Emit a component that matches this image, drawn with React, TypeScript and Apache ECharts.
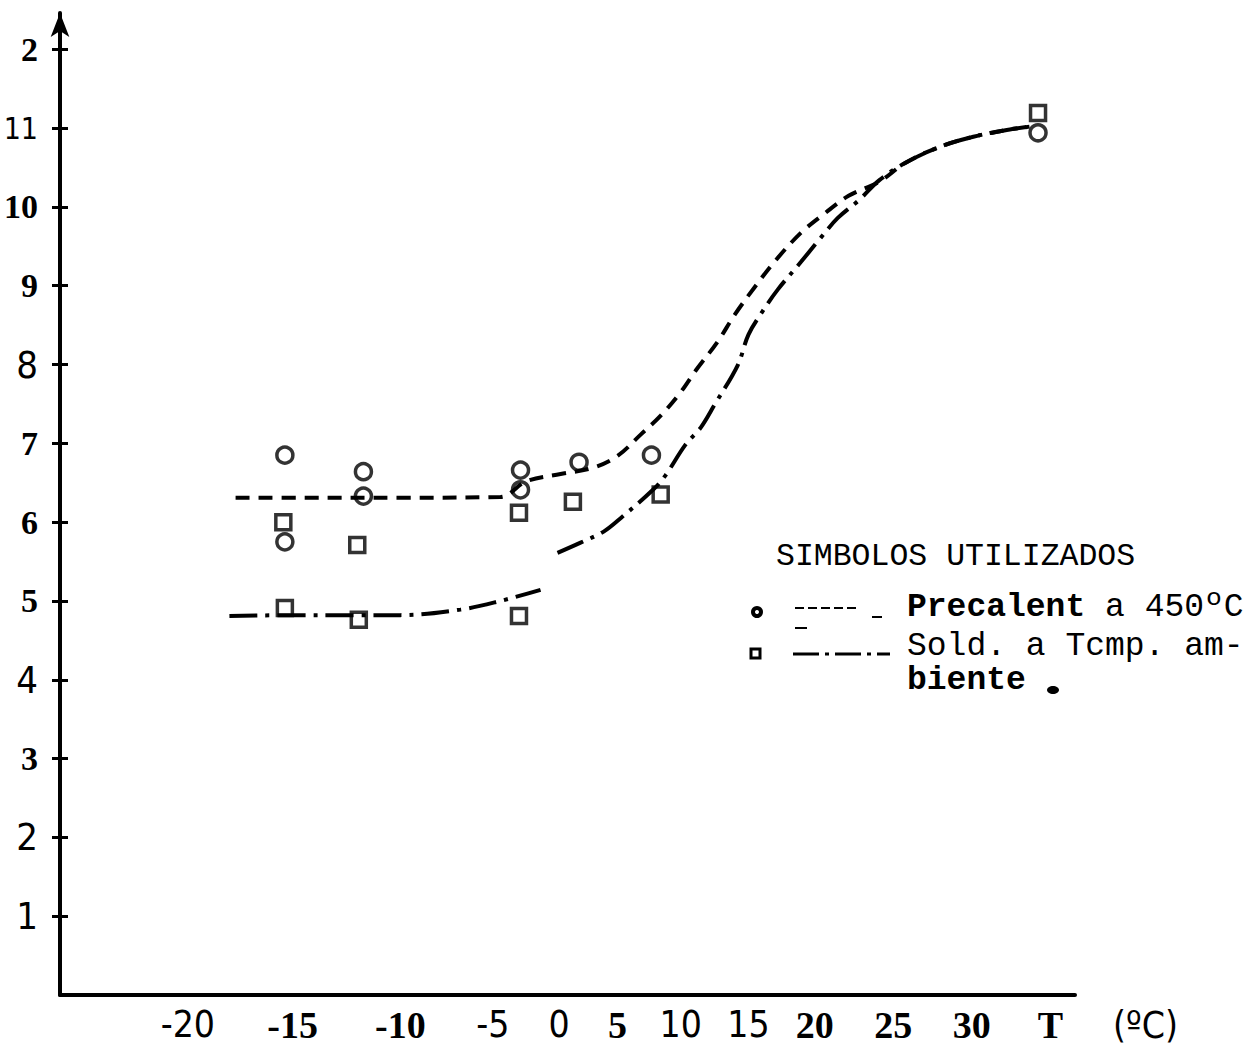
import React, { useEffect, useRef } from "react";
import * as echarts from "echarts";

// ---- data ----
// Precalent a 450ºC (circles): [T, value]
const precalentPoints: [number, number][] = [
  [-15.4, 6.85], [-15.4, 5.75], [-10.3, 6.64], [-10.3, 6.33],
  [-0.1, 6.66], [-0.1, 6.41], [3.7, 6.76], [8.4, 6.85], [33.5, 10.94],
];
// Sold. a Temp. ambiente (squares)
const soldPoints: [number, number][] = [
  [-15.5, 6.0], [-15.4, 4.91], [-10.7, 5.71], [-10.6, 4.76],
  [-0.2, 6.12], [-0.2, 4.81], [3.3, 6.26], [9.0, 6.35], [33.5, 11.19],
];
// hand-drawn dashed curve (Precalent)
const precalentCurve: [number, number][] = [
  [-18.6, 6.31], [-14.4, 6.31], [-7.9, 6.31], [-1.4, 6.32], [0.3, 6.52],
  [2.5, 6.61], [4.6, 6.69], [6.2, 6.84], [7.7, 7.11], [9.0, 7.35],
  [10.3, 7.65], [11.3, 7.93], [12.7, 8.29], [13.8, 8.63], [15.1, 8.98],
  [16.5, 9.33], [18.1, 9.67], [19.6, 9.91], [21.2, 10.14], [23.2, 10.32],
  [24.9, 10.56], [27.1, 10.76], [29.3, 10.89], [31.3, 10.97], [33.0, 11.02],
];
// hand-drawn dash-dot curve (Sold.), drawn in two strokes
const soldCurveLow: [number, number][] = [
  [-19.0, 4.81], [-14.4, 4.82], [-11.2, 4.82], [-7.9, 4.82],
  [-4.0, 4.89], [-1.4, 5.0], [1.2, 5.14],
];
const soldCurveHigh: [number, number][] = [
  [2.3, 5.61], [3.8, 5.74], [5.3, 5.88], [6.4, 6.05], [8.5, 6.41],
  [9.3, 6.59], [10.6, 6.98], [11.6, 7.2], [12.5, 7.49], [14.0, 7.99],
  [14.7, 8.38], [15.6, 8.67], [16.6, 8.95], [18.1, 9.3], [19.4, 9.61],
  [20.5, 9.86], [21.9, 10.09], [23.2, 10.34], [24.9, 10.56], [27.1, 10.76],
  [29.3, 10.89], [31.3, 10.97], [33.0, 11.02],
];
// tick labels as printed, and where they sit on the axis
const xTickLabels = ["-20", "-15", "-10", "-5", "0", "5", "10", "15", "20", "25", "30", "T"];
const xTickValues = [-21.7, -14.9, -7.9, -1.9, 2.4, 6.2, 10.3, 14.7, 19.0, 24.1, 29.2, 34.3];
const yTickValues = [1, 2, 3, 4, 5, 6, 7, 8, 9, 10, 11, 12];
const yTickLabels = ["1", "2", "3", "4", "5", "6", "7", "8", "9", "10", "11", "2"];

// ---- styles ----
const xLabelFace = ["l", "b", "b", "l", "l", "b", "l", "l", "b", "b", "b", "b"];
const yLabelFace = ["l", "l", "b", "l", "b", "b", "b", "l", "b", "b", "s", "b"];
const SERIF = '"Liberation Serif", "DejaVu Serif", serif';
const NARROW = '"Liberation Sans Narrow", "DejaVu Sans Condensed", "Liberation Sans", sans-serif';
const MONO = '"Liberation Mono", "DejaVu Sans Mono", monospace';

function findIdx(arr: number[], v: number) {
  for (let i = 0; i < arr.length; i++) if (Math.abs(arr[i] - v) < 1e-6) return i;
  return -1;
}

export default function App() {
  const ref = useRef<HTMLDivElement>(null);
  useEffect(() => {
    if (!ref.current) return;
    const chart = echarts.init(ref.current, undefined, { renderer: "svg" });
    const tickStyle = { color: "#000", width: 3 };
    const yMax = 12.46;
    chart.setOption({
      animation: false,
      backgroundColor: "#fff",
      grid: { left: 60, right: 178, top: 13, bottom: 57, containLabel: false, outerBoundsMode: "none" },
      xAxis: {
        type: "value",
        min: -30,
        max: 35.9,
        axisLine: { onZero: false, lineStyle: { color: "#000", width: 4 } },
        axisTick: { show: false },
        splitLine: { show: false },
        axisLabel: {
          customValues: xTickValues,
          margin: 11,
          formatter: (v: number) => {
            const i = findIdx(xTickValues, v);
            return i < 0 ? "" : `{${xLabelFace[i]}|${xTickLabels[i]}}`;
          },
          rich: {
            b: { fontFamily: SERIF, fontWeight: "bold", fontSize: 38, color: "#000" },
            l: { fontFamily: NARROW, fontWeight: "normal", fontSize: 37, color: "#000" },
          },
        },
        name: "(ºC)",
        nameLocation: "end",
        nameGap: 38,
        nameTextStyle: {
          fontFamily: NARROW,
          fontSize: 37,
          color: "#000",
          verticalAlign: "top",
          align: "left",
          padding: [12, 0, 0, 0],
        },
      },
      yAxis: [
        {
          type: "value",
          position: "left",
          min: 0,
          max: yMax,
          axisLine: {
            show: true,
            onZero: false,
            symbol: ["none", "arrow"],
            symbolSize: [14, 24],
            lineStyle: { color: "#000", width: 4 },
          },
          axisTick: { show: true, customValues: yTickValues, length: 8, lineStyle: tickStyle },
          splitLine: { show: false },
          axisLabel: {
            customValues: yTickValues,
            margin: 22,
            formatter: (v: number) => {
              const i = findIdx(yTickValues, v);
              return i < 0 ? "" : `{${yLabelFace[i]}|${yTickLabels[i]}}`;
            },
            rich: {
              b: { fontFamily: SERIF, fontWeight: "bold", fontSize: 34, color: "#000" },
              l: { fontFamily: NARROW, fontWeight: "normal", fontSize: 38, color: "#000" },
              s: { fontFamily: NARROW, fontWeight: "normal", fontSize: 30, color: "#000" },
            },
          },
        },
        {
          type: "value",
          position: "left",
          min: 0,
          max: yMax,
          axisLine: { show: false, onZero: false },
          axisTick: { show: true, inside: true, customValues: yTickValues, length: 8, lineStyle: tickStyle },
          axisLabel: { show: false },
          splitLine: { show: false },
        },
      ],
      series: [
        {
          name: "Precalent curve",
          type: "line",
          data: precalentCurve,
          smooth: 0.35,
          showSymbol: false,
          symbol: "none",
          lineStyle: { color: "#000", width: 4, type: [14, 9] },
          z: 2,
        },
        {
          name: "Sold curve low",
          type: "line",
          data: soldCurveLow,
          smooth: 0.35,
          showSymbol: false,
          symbol: "none",
          lineStyle: { color: "#000", width: 4, type: [28, 8, 4, 8] },
          z: 2,
        },
        {
          name: "Sold curve high",
          type: "line",
          data: soldCurveHigh,
          smooth: 0.35,
          showSymbol: false,
          symbol: "none",
          lineStyle: { color: "#000", width: 4, type: [28, 8, 4, 8] },
          z: 2,
        },
        {
          name: "Precalent a 450ºC",
          type: "scatter",
          data: precalentPoints,
          symbol: "circle",
          symbolSize: 16,
          itemStyle: { color: "rgba(255,255,255,0)", borderColor: "#000", borderWidth: 3.5 },
          z: 3,
        },
        {
          name: "Sold. a Tcmp. ambiente",
          type: "scatter",
          data: soldPoints,
          symbol: "rect",
          symbolSize: 15,
          itemStyle: { color: "rgba(255,255,255,0)", borderColor: "#000", borderWidth: 3.5 },
          z: 3,
        },
      ],
      graphic: [
        {
          type: "text",
          x: 776,
          y: 556,
          style: { text: "SIMBOLOS UTILIZADOS", fontFamily: MONO, fontSize: 31.5, lineHeight: 32, fill: "#000", verticalAlign: "middle" },
        },
        { type: "circle", shape: { cx: 757, cy: 612, r: 4 }, style: { fill: "#fff", stroke: "#000", lineWidth: 4 } },
        { type: "line", shape: { x1: 795, y1: 608, x2: 857, y2: 608 }, style: { stroke: "#000", lineWidth: 2, lineDash: [9, 4] } },
        { type: "line", shape: { x1: 872, y1: 617, x2: 882, y2: 617 }, style: { stroke: "#000", lineWidth: 2 } },
        { type: "line", shape: { x1: 795, y1: 628, x2: 807, y2: 628 }, style: { stroke: "#000", lineWidth: 2 } },
        {
          type: "text",
          x: 907,
          y: 607,
          style: {
            text: "{b|Precalent} a 450ºC",
            fontFamily: MONO,
            fontSize: 33,
            lineHeight: 32,
            fill: "#000",
            verticalAlign: "middle",
            rich: { b: { fontFamily: MONO, fontSize: 33, lineHeight: 32, fontWeight: "bold", fill: "#000" } },
          },
        },
        { type: "rect", shape: { x: 751, y: 649, width: 9, height: 9 }, style: { fill: "#fff", stroke: "#000", lineWidth: 3 } },
        { type: "line", shape: { x1: 793, y1: 654, x2: 890, y2: 654 }, style: { stroke: "#000", lineWidth: 3, lineDash: [26, 6, 4, 6] } },
        {
          type: "text",
          x: 907,
          y: 646,
          style: { text: "Sold. a Tcmp. am-", fontFamily: MONO, fontSize: 33, lineHeight: 32, fill: "#000", verticalAlign: "middle" },
        },
        {
          type: "text",
          x: 907,
          y: 680,
          style: { text: "biente", fontFamily: MONO, fontSize: 33, lineHeight: 32, fontWeight: "bold", fill: "#000", verticalAlign: "middle" },
        },
        { type: "ellipse", shape: { cx: 1053, cy: 690, rx: 6, ry: 4 }, style: { fill: "#000" } },
      ],
    });
    return () => chart.dispose();
  }, []);
  return (
    <div
      ref={ref}
      style={{ position: "absolute", left: 0, top: 0, width: 1253, height: 1052, background: "#fff" }}
    />
  );
}
